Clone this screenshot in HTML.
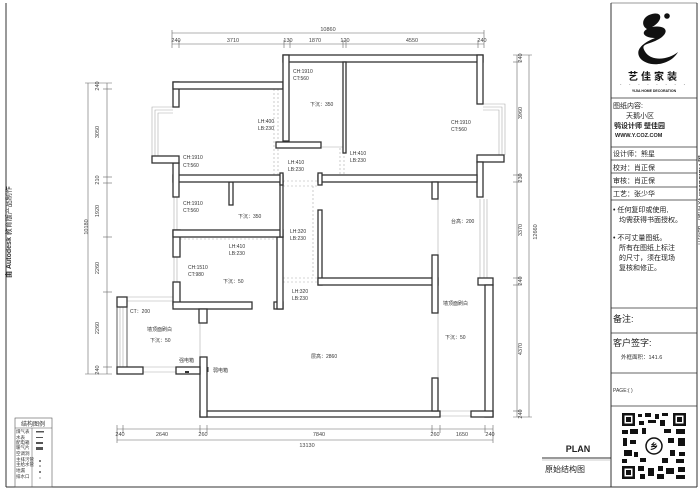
<!DOCTYPE html>
<html><head><meta charset="utf-8"><style>
html,body{margin:0;padding:0;background:#fff;}
svg{display:block;font-family:"Liberation Sans","Noto Sans CJK SC",sans-serif;}
.w{fill:#fff;stroke:#333;stroke-width:1.3;}
.d{stroke:#666;stroke-width:0.6;fill:none;}
.t{font-size:5px;fill:#333;}
.dim{font-size:5.5px;fill:#444;}
.g{stroke:#aaa;stroke-width:0.6;fill:none;}
.dash{stroke:#aaa;stroke-width:0.6;stroke-dasharray:2,2;fill:none;}
</style></head><body>
<svg width="700" height="490" viewBox="0 0 700 490" xmlns="http://www.w3.org/2000/svg">
<rect x="0" y="0" width="700" height="490" fill="#fff"/>
<line x1="6" y1="3" x2="6" y2="487" stroke="#333" stroke-width="1"/>
<line x1="6" y1="487" x2="697" y2="487" stroke="#333" stroke-width="1"/>
<line x1="611" y1="3" x2="611" y2="487" stroke="#333" stroke-width="1"/>
<line x1="697" y1="3" x2="697" y2="487" stroke="#333" stroke-width="1"/>
<line x1="611" y1="3" x2="697" y2="3" stroke="#333" stroke-width="0.6"/>

<text transform="translate(11,278) rotate(-90)" style="font-size:7px" fill="#333"><tspan font-weight="bold">由 Autodesk</tspan> 教育版产品制作</text>
<text transform="translate(699,155) rotate(90)" style="font-size:7px" fill="#333"><tspan font-weight="bold">由 Autodesk</tspan> 教育版产品制作</text>

<g class="d">
<line x1="172" y1="33" x2="484" y2="33"/><line x1="172" y1="44" x2="484" y2="44"/>
<line x1="172" y1="30" x2="172" y2="48"/><line x1="484" y1="30" x2="484" y2="48"/>
<line x1="179" y1="40" x2="179" y2="48"/><line x1="284" y1="40" x2="284" y2="48"/><line x1="290" y1="40" x2="290" y2="48"/><line x1="343" y1="40" x2="343" y2="48"/><line x1="346" y1="40" x2="346" y2="48"/><line x1="478" y1="40" x2="478" y2="48"/>
</g>
<text class="dim" x="328" y="31" text-anchor="middle">10860</text>
<g class="dim" text-anchor="middle">
<text x="176" y="42">240</text><text x="233" y="42">3710</text><text x="288" y="42">130</text><text x="315" y="42">1870</text><text x="345" y="42">120</text><text x="412" y="42">4550</text><text x="482" y="42">240</text>
</g>
<g class="d">
<line x1="117" y1="429" x2="493" y2="429"/><line x1="117" y1="440" x2="493" y2="440"/>
<line x1="117" y1="425" x2="117" y2="443"/><line x1="493" y1="425" x2="493" y2="443"/>
<line x1="123" y1="425" x2="123" y2="433"/><line x1="200" y1="425" x2="200" y2="433"/><line x1="207" y1="425" x2="207" y2="433"/><line x1="432" y1="425" x2="432" y2="433"/><line x1="440" y1="425" x2="440" y2="433"/><line x1="485" y1="425" x2="485" y2="433"/>
</g>
<g class="dim" text-anchor="middle">
<text x="120" y="436">240</text><text x="162" y="436">2640</text><text x="203" y="436">260</text><text x="319" y="436">7840</text><text x="435" y="436">260</text><text x="462" y="436">1650</text><text x="490" y="436">240</text>
<text x="307" y="447">13130</text>
</g>
<g class="d">
<line x1="88" y1="83" x2="88" y2="374"/><line x1="107" y1="83" x2="107" y2="374"/>
<line x1="85" y1="83" x2="112" y2="83"/><line x1="85" y1="374" x2="112" y2="374"/>
<line x1="103" y1="89" x2="112" y2="89"/><line x1="103" y1="177" x2="112" y2="177"/><line x1="103" y1="183" x2="112" y2="183"/><line x1="103" y1="237" x2="112" y2="237"/><line x1="103" y1="292" x2="112" y2="292"/><line x1="103" y1="367" x2="112" y2="367"/>
</g>
<g class="dim" text-anchor="middle">
<text transform="translate(99,86) rotate(-90)">240</text>
<text transform="translate(99,132) rotate(-90)">3050</text>
<text transform="translate(99,180) rotate(-90)">210</text>
<text transform="translate(99,211) rotate(-90)">1920</text>
<text transform="translate(99,268) rotate(-90)">2260</text>
<text transform="translate(99,328) rotate(-90)">2260</text>
<text transform="translate(99,370) rotate(-90)">240</text>
<text transform="translate(88,227) rotate(-90)">10180</text>
</g>
<g class="d">
<line x1="517" y1="55" x2="517" y2="417"/><line x1="529" y1="55" x2="529" y2="417"/>
<line x1="513" y1="55" x2="532" y2="55"/><line x1="513" y1="417" x2="532" y2="417"/>
<line x1="513" y1="62" x2="521" y2="62"/><line x1="513" y1="175" x2="521" y2="175"/><line x1="513" y1="182" x2="521" y2="182"/><line x1="513" y1="278" x2="521" y2="278"/><line x1="513" y1="285" x2="521" y2="285"/><line x1="513" y1="411" x2="521" y2="411"/>
</g>
<g class="dim" text-anchor="middle">
<text transform="translate(522,58) rotate(-90)">240</text>
<text transform="translate(522,113) rotate(-90)">3960</text>
<text transform="translate(522,178) rotate(-90)">230</text>
<text transform="translate(522,230) rotate(-90)">3370</text>
<text transform="translate(522,281) rotate(-90)">240</text>
<text transform="translate(522,349) rotate(-90)">4370</text>
<text transform="translate(522,414) rotate(-90)">240</text>
<text transform="translate(537,232) rotate(-90)">12660</text>
</g>

<g class="g">
<path d="M173,107 H152 V156 M173,110 H155 V156 M173,113 H158 V156"/>
<path d="M483,104 H505 V155 M483,107 H502 V155 M483,110 H499 V155"/>
<path d="M480,199 V278 M484,199 V278 M487,199 V278"/>
<path d="M120,303 V367 M123,303 V367"/>
<path d="M127,297 H173 M127,301 H173"/>
<path d="M143,367 H176 M143,372 H176"/>
<path d="M440,411 H471 M440,416 H471"/>
<path d="M174,197 V230 M177,197 V230 M174,257 V282 M177,257 V282 M284,62 V82 M287,62 V82"/>
<path d="M488,285 V411 M491,285 V411"/>
<line x1="438" y1="182" x2="438" y2="411"/>
<line x1="200" y1="323" x2="200" y2="357"/>
<line x1="322" y1="147" x2="343" y2="147"/>
</g>
<g class="dash">
<path d="M274,89 V175 M278,89 V175"/>
<path d="M340,148 V175 M344,148 V175"/>
<path d="M283,181 H318 M283,186 H318"/>
<path d="M313,186 V278"/>
<path d="M283,278 H318 M283,282 H318"/>
<path d="M180,239 H277"/>
</g>

<g class="w">
<rect x="283" y="55" width="200" height="7"/>
<rect x="477" y="55" width="6" height="49"/>
<rect x="477" y="155" width="27" height="7"/>
<rect x="477" y="162" width="6" height="35"/>
<rect x="478" y="278" width="15" height="7"/>
<rect x="485" y="285" width="8" height="132"/>
<rect x="471" y="411" width="22" height="6"/>
<rect x="200" y="411" width="240" height="6"/>
<rect x="200" y="357" width="7" height="60"/>
<rect x="176" y="367" width="24" height="7"/>
<rect x="117" y="367" width="26" height="7"/>
<rect x="117" y="297" width="10" height="10"/>
<rect x="117" y="307" width="10" height="60" fill="none" stroke-width="0.8"/>
<rect x="173" y="282" width="7" height="23"/>
<rect x="173" y="302" width="79" height="7"/>
<rect x="199" y="309" width="8" height="14"/>
<rect x="274" y="302" width="9" height="7"/>
<rect x="277" y="237" width="6" height="72"/>
<rect x="173" y="230" width="7" height="27"/>
<rect x="173" y="230" width="110" height="7"/>
<rect x="229" y="182" width="4" height="23"/>
<rect x="280" y="182" width="3" height="55"/>
<rect x="173" y="175" width="110" height="7"/>
<rect x="280" y="173" width="3" height="12"/>
<rect x="173" y="163" width="6" height="34"/>
<rect x="152" y="156" width="27" height="7"/>
<rect x="173" y="82" width="6" height="25"/>
<rect x="173" y="82" width="110" height="7"/>
<rect x="283" y="55" width="6" height="86"/>
<rect x="276" y="142" width="45" height="6"/>
<rect x="343" y="62" width="3" height="91"/>
<rect x="318" y="175" width="159" height="7"/>
<rect x="318" y="173" width="4" height="12"/>
<rect x="432" y="182" width="6" height="17"/>
<rect x="318" y="210" width="4" height="75"/>
<rect x="318" y="278" width="120" height="7"/>
<rect x="432" y="255" width="6" height="58"/>
<rect x="432" y="378" width="6" height="33"/>
</g>
<rect x="185" y="371" width="4" height="2" fill="#333"/>
<rect x="207" y="367" width="1.5" height="5" fill="#333"/>

<g class="t">
<text x="183" y="159">CH:1910</text><text x="183" y="167">CT:560</text>
<text x="258" y="123">LH:400</text><text x="258" y="130">LB:230</text>
<text x="293" y="73">CH:1910</text><text x="293" y="80">CT:560</text>
<text x="310" y="106">下沉：350</text>
<text x="451" y="124">CH:1910</text><text x="451" y="131">CT:560</text>
<text x="288" y="164">LH:410</text><text x="288" y="171">LB:230</text>
<text x="350" y="155">LH:410</text><text x="350" y="162">LB:230</text>
<text x="183" y="205">CH:1910</text><text x="183" y="212">CT:560</text>
<text x="238" y="218">下沉：350</text>
<text x="290" y="233">LH:320</text><text x="290" y="240">LB:230</text>
<text x="451" y="223">台高：200</text>
<text x="229" y="248">LH:410</text><text x="229" y="255">LB:230</text>
<text x="188" y="269">CH:1510</text><text x="188" y="276">CT:980</text>
<text x="223" y="283">下沉：50</text>
<text x="292" y="293">LH:320</text><text x="292" y="300">LB:230</text>
<text x="130" y="313">CT：200</text>
<text x="147" y="331">墙顶面刷白</text>
<text x="150" y="342">下沉：50</text>
<text x="443" y="305">墙顶面刷白</text>
<text x="445" y="339">下沉：50</text>
<text x="311" y="358">层高：2860</text>
<text x="179" y="362">强电箱</text>
<text x="213" y="372">弱电箱</text>
</g>

<g>
<rect x="15" y="418" width="37" height="69" fill="none" stroke="#555" stroke-width="0.6"/>
<line x1="15" y1="428" x2="52" y2="428" stroke="#555" stroke-width="0.5"/>
<line x1="32" y1="428" x2="32" y2="487" stroke="#555" stroke-width="0.5"/>
<text x="33" y="426" text-anchor="middle" style="font-size:6px" fill="#333">结构图例</text>
<g style="font-size:4.5px" fill="#333">
<text x="16" y="433">煤气表</text><text x="16" y="439">水表</text><text x="16" y="444">配电箱</text><text x="16" y="449">暖气片</text><text x="16" y="455">空调洞</text><text x="16" y="461">主排污管</text><text x="16" y="466">主给水管</text><text x="16" y="472">地漏</text><text x="16" y="478">排水口</text>
</g>
<g fill="#555"><rect x="36" y="431" width="8" height="1.5"/><rect x="36" y="437" width="7" height="1"/><rect x="36" y="442" width="7" height="2"/><rect x="36" y="447" width="7" height="3"/><circle cx="40" cy="461" r="1"/><circle cx="40" cy="466" r="0.8"/><circle cx="40" cy="472" r="1"/><circle cx="40" cy="478" r="0.6"/></g>
</g>

<text x="578" y="452" text-anchor="middle" style="font-size:9px;font-weight:bold" fill="#222">PLAN</text>
<line x1="542" y1="458" x2="611" y2="458" stroke="#333" stroke-width="1"/>
<line x1="542" y1="460" x2="611" y2="460" stroke="#999" stroke-width="0.5"/>
<text x="545" y="472" style="font-size:8px" fill="#222">原始结构图</text>

<g stroke="#333" stroke-width="0.7">
<line x1="611" y1="98" x2="697" y2="98"/>
<line x1="611" y1="147" x2="697" y2="147"/>
<line x1="611" y1="160" x2="697" y2="160"/>
<line x1="611" y1="173" x2="697" y2="173"/>
<line x1="611" y1="187" x2="697" y2="187"/>
<line x1="611" y1="200" x2="697" y2="200"/>
<line x1="611" y1="308" x2="697" y2="308"/>
<line x1="611" y1="333" x2="697" y2="333"/>
<line x1="611" y1="373" x2="697" y2="373"/>
<line x1="611" y1="406" x2="697" y2="406"/>
</g>
<path d="M652,14 C664,11 662,22 652,27 C664,25 670,30 662,37 C650,46 638,42 646,53 C653,62 670,59 678,52 C670,66 648,68 640,58 C634,49 645,42 655,38 C645,38 640,33 647,29 C640,25 643,16 652,14 Z" fill="#111"/>
<circle cx="667" cy="16" r="2.8" fill="#111"/>
<text x="654" y="80" text-anchor="middle" style="font-size:10px;font-weight:bold;letter-spacing:3px" fill="#111">艺佳家装</text>
<text x="654" y="86" text-anchor="middle" style="font-size:5px;letter-spacing:3px" fill="#111">· · · · · · · ·</text>
<text x="654" y="92" text-anchor="middle" style="font-size:3.5px;font-weight:bold" fill="#111">YIJIA HOME DECORATION</text>
<g style="font-size:7px" fill="#222">
<text x="613" y="108">图纸内容:</text>
<text x="626" y="118">天鹅小区</text>
<text x="614" y="128" style="font-weight:bold;font-size:7px">鸮设计师 壁佳园</text>
<text x="615" y="137" style="font-size:5.5px;font-weight:bold">WWW.Y.COZ.COM</text>
<text x="613" y="156">设计师：熊星</text>
<text x="613" y="170">校对：肖正保</text>
<text x="613" y="183">审核：肖正保</text>
<text x="613" y="196">工艺：张少华</text>
<text x="613" y="212">• 任何复印或使用,</text>
<text x="619" y="222">均需获得书面授权。</text>
<text x="613" y="240">• 不可丈量图纸。</text>
<text x="619" y="250">所有在图纸上标注</text>
<text x="619" y="260">的尺寸，须在现场</text>
<text x="619" y="270">复核和修正。</text>
</g>
<text x="613" y="322" style="font-size:9px" fill="#222">备注:</text>
<text x="613" y="346" style="font-size:9px" fill="#222">客户签字:</text>
<text x="621" y="359" style="font-size:5.5px" fill="#333">外框面积：141.6</text>
<text x="613" y="392" style="font-size:5px" fill="#333">PAGE:(  )</text>
<g fill="#111">
<rect x="621" y="412" width="66" height="68" fill="#fff"/>
<rect x="622" y="413" width="13" height="13"/><rect x="624.5" y="415.5" width="8" height="8" fill="#fff"/><rect x="626" y="417" width="5" height="5"/>
<rect x="673" y="413" width="13" height="13"/><rect x="675.5" y="415.5" width="8" height="8" fill="#fff"/><rect x="677" y="417" width="5" height="5"/>
<rect x="622" y="466" width="13" height="13"/><rect x="624.5" y="468.5" width="8" height="8" fill="#fff"/><rect x="626" y="470" width="5" height="5"/>
<rect x="638" y="414" width="4" height="3"/><rect x="645" y="413" width="6" height="4"/><rect x="655" y="414" width="4" height="5"/><rect x="662" y="413" width="6" height="3"/>
<rect x="639" y="421" width="5" height="4"/><rect x="648" y="420" width="8" height="3"/><rect x="660" y="420" width="5" height="6"/>
<rect x="622" y="430" width="6" height="4"/><rect x="630" y="429" width="8" height="5"/><rect x="642" y="428" width="4" height="6"/><rect x="664" y="429" width="7" height="4"/><rect x="676" y="429" width="9" height="5"/>
<rect x="623" y="438" width="4" height="8"/><rect x="630" y="440" width="6" height="4"/><rect x="668" y="438" width="6" height="5"/><rect x="678" y="438" width="7" height="8"/>
<rect x="624" y="450" width="8" height="6"/><rect x="634" y="452" width="4" height="5"/><rect x="670" y="450" width="5" height="6"/><rect x="679" y="452" width="6" height="4"/>
<rect x="622" y="459" width="5" height="4"/><rect x="640" y="458" width="6" height="4"/><rect x="662" y="458" width="6" height="5"/><rect x="676" y="459" width="8" height="4"/>
<rect x="638" y="466" width="6" height="5"/><rect x="648" y="468" width="6" height="8"/><rect x="658" y="466" width="5" height="5"/><rect x="666" y="468" width="8" height="6"/><rect x="678" y="467" width="7" height="5"/>
<rect x="640" y="474" width="5" height="5"/><rect x="657" y="474" width="7" height="5"/><rect x="676" y="475" width="9" height="4"/>
<circle cx="654" cy="446" r="8" fill="#fff" stroke="#111" stroke-width="1.5"/>
<text x="654" y="449" text-anchor="middle" style="font-size:8px;font-weight:bold">乡</text>
</g>
</svg>
</body></html>
